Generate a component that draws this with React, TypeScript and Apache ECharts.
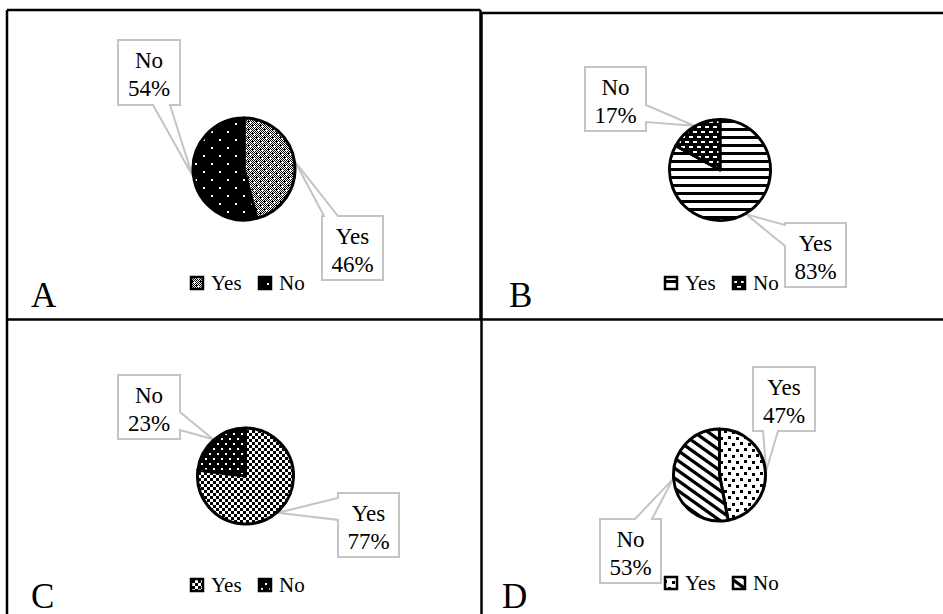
import React, { useEffect, useRef } from 'react';
import * as echarts from 'echarts';

// Survey answers per panel, in the order of the categories
const categories = ['Yes', 'No'];
const answersA = [46, 54];
const answersB = [83, 17];
const answersC = [77, 23];
const answersD = [47, 53];
const panelLetters = ['A', 'B', 'C', 'D'];

const FONT = 'serif';

type Side = 'top' | 'bottom' | 'left' | 'right';
interface Callout {
  left: number;
  top: number;
  width: number;
  height: number;
  side: Side;
  from: number;
  to: number;
}

// ---- pattern tiles --------------------------------------------------------
function makeTile(w: number, h: number, draw: (ctx: CanvasRenderingContext2D) => void) {
  const c = document.createElement('canvas');
  c.width = w;
  c.height = h;
  const ctx = c.getContext('2d')!;
  draw(ctx);
  return { image: c, repeat: 'repeat', imageWidth: w, imageHeight: h } as any;
}

function wrapRect(ctx: CanvasRenderingContext2D, x: number, y: number, w: number, h: number, W: number, H: number) {
  for (const dx of [-W, 0, W]) {
    for (const dy of [-H, 0, H]) ctx.fillRect(x + dx, y + dy, w, h);
  }
}

const patternMakers = {
  checkCross: () =>
    makeTile(8, 8, (ctx) => {
      ctx.fillStyle = '#fff';
      ctx.fillRect(0, 0, 8, 8);
      ctx.fillStyle = '#000';
      for (let y = 0; y < 8; y++) for (let x = 0; x < 8; x++) if ((x + y) % 2 === 0) ctx.fillRect(x, y, 1, 1);
      ctx.fillRect(0, 0, 1, 2);
      ctx.fillRect(4, 4, 1, 2);
      ctx.fillStyle = '#fff';
      ctx.fillRect(1, 2, 3, 1);
      ctx.fillRect(2, 1, 1, 3);
      ctx.fillRect(5, 6, 3, 1);
      ctx.fillRect(6, 5, 1, 3);
    }),
  sparseDots: () =>
    makeTile(16, 16, (ctx) => {
      ctx.fillStyle = '#000';
      ctx.fillRect(0, 0, 16, 16);
      ctx.fillStyle = '#fff';
      ctx.fillRect(3, 3, 2, 2);
      ctx.fillRect(11, 11, 2, 2);
    }),
  horizontalStripes: () =>
    makeTile(8, 8, (ctx) => {
      ctx.fillStyle = '#fff';
      ctx.fillRect(0, 0, 8, 8);
      ctx.fillStyle = '#000';
      ctx.fillRect(0, 0, 8, 3);
    }),
  dashes: () =>
    makeTile(8, 10, (ctx) => {
      ctx.fillStyle = '#000';
      ctx.fillRect(0, 0, 8, 10);
      ctx.fillStyle = '#fff';
      wrapRect(ctx, 1, 1, 4, 2, 8, 10);
      wrapRect(ctx, 5, 6, 4, 2, 8, 10);
    }),
  checkerboard: () =>
    makeTile(6, 6, (ctx) => {
      ctx.fillStyle = '#fff';
      ctx.fillRect(0, 0, 6, 6);
      ctx.fillStyle = '#000';
      ctx.fillRect(0, 0, 3, 3);
      ctx.fillRect(3, 3, 3, 3);
    }),
  denseDots: () =>
    makeTile(8, 10, (ctx) => {
      ctx.fillStyle = '#000';
      ctx.fillRect(0, 0, 8, 10);
      ctx.fillStyle = '#fff';
      wrapRect(ctx, 1, 1, 2, 2, 8, 10);
      wrapRect(ctx, 5, 6, 2, 2, 8, 10);
    }),
  confetti: () =>
    makeTile(16, 12, (ctx) => {
      ctx.fillStyle = '#fff';
      ctx.fillRect(0, 0, 16, 12);
      ctx.fillStyle = '#000';
      wrapRect(ctx, 0, 0, 3, 3, 16, 12);
      wrapRect(ctx, 8, 1, 3, 3, 16, 12);
      wrapRect(ctx, 4, 6, 3, 3, 16, 12);
      wrapRect(ctx, 12, 7, 3, 3, 16, 12);
    }),
  diagonal: () =>
    makeTile(14, 10, (ctx) => {
      ctx.fillStyle = '#fff';
      ctx.fillRect(0, 0, 14, 10);
      ctx.strokeStyle = '#000';
      ctx.lineWidth = 3.3;
      for (const k of [-1, 0, 1]) {
        ctx.beginPath();
        ctx.moveTo(k * 14 - 14, -10);
        ctx.lineTo(k * 14 + 28, 20);
        ctx.stroke();
      }
    }),
};

// Panel frame lines in page coordinates; every panel draws them, clipped to its own box
const frameLines = [
  [7, 10, 480.5, 10],
  [7, 10, 7, 614],
  [480.5, 10, 480.5, 320],
  [481.5, 13, 943, 13],
  [481.5, 13, 481.5, 614],
  [7, 319.5, 943, 319.5],
];

// ---- panel layout (page coordinates) ---------------------------------------
interface PanelCfg {
  letter: string;
  values: number[];
  fills: (keyof typeof patternMakers)[];
  box: [number, number, number, number];
  center: [number, number];
  radius: number;
  legendPos: [number, number];
  letterPos: [number, number];
  callouts: Callout[];
}

const LEGEND_STEP = 68;

const panels: PanelCfg[] = [
  {
    letter: panelLetters[0],
    values: answersA,
    fills: ['checkCross', 'sparseDots'],
    box: [0, 0, 484, 322],
    center: [244, 169],
    radius: 51,
    legendPos: [190, 283],
    letterPos: [31, 295],
    callouts: [
      { left: 322, top: 216, width: 61, height: 64, side: 'top', from: 324, to: 338 },
      { left: 118, top: 40, width: 62, height: 65, side: 'bottom', from: 153, to: 170 },
    ],
  },
  {
    letter: panelLetters[1],
    values: answersB,
    fills: ['horizontalStripes', 'dashes'],
    box: [484, 0, 459, 322],
    center: [720, 170],
    radius: 50.5,
    legendPos: [664, 283],
    letterPos: [509, 295],
    callouts: [
      { left: 785, top: 223, width: 61, height: 64, side: 'left', from: 225, to: 246 },
      { left: 585, top: 67, width: 61, height: 64, side: 'right', from: 105, to: 122 },
    ],
  },
  {
    letter: panelLetters[2],
    values: answersC,
    fills: ['checkerboard', 'denseDots'],
    box: [0, 322, 484, 292],
    center: [245.5, 476],
    radius: 48,
    legendPos: [190, 585],
    letterPos: [31, 596],
    callouts: [
      { left: 338, top: 493, width: 61, height: 64, side: 'left', from: 498, to: 520 },
      { left: 118, top: 375, width: 62, height: 64, side: 'right', from: 412, to: 430 },
    ],
  },
  {
    letter: panelLetters[3],
    values: answersD,
    fills: ['confetti', 'diagonal'],
    box: [484, 322, 459, 292],
    center: [719.5, 475],
    radius: 46,
    legendPos: [664, 583],
    letterPos: [502, 596],
    callouts: [
      { left: 753, top: 367, width: 62, height: 64, side: 'bottom', from: 763, to: 778 },
      { left: 600, top: 519, width: 61, height: 64, side: 'top', from: 635, to: 652 },
    ],
  },
];

// Point on the rim at the middle angle of a slice (pie starts at 12 o'clock, clockwise)
function sliceTip(values: number[], idx: number, cx: number, cy: number, r: number): number[] {
  const total = values.reduce((s, v) => s + v, 0);
  let acc = 0;
  for (let i = 0; i < idx; i++) acc += values[i];
  const mid = ((acc + values[idx] / 2) / total) * Math.PI * 2;
  return [cx + r * Math.sin(mid), cy - r * Math.cos(mid)];
}

function calloutPoints(c: Callout, tip: number[], ox: number, oy: number): number[][] {
  const L = c.left - ox;
  const T = c.top - oy;
  const R = L + c.width;
  const B = T + c.height;
  const shift = c.side === 'top' || c.side === 'bottom' ? ox : oy;
  const a = Math.min(c.from, c.to) - shift;
  const b = Math.max(c.from, c.to) - shift;
  const t = [tip[0] - ox, tip[1] - oy];
  switch (c.side) {
    case 'top':
      return [[L, T], [a, T], t, [b, T], [R, T], [R, B], [L, B]];
    case 'right':
      return [[L, T], [R, T], [R, a], t, [R, b], [R, B], [L, B]];
    case 'bottom':
      return [[L, T], [R, T], [R, B], [b, B], t, [a, B], [L, B]];
    default:
      return [[L, T], [R, T], [R, B], [L, B], [L, b], t, [L, a]];
  }
}

function serifText(text: string, x: number, y: number, size: number, align: string) {
  return {
    type: 'text',
    x,
    y,
    z: 10,
    style: { text, fontFamily: FONT, fontSize: size, fill: '#000', align, verticalAlign: 'middle' },
  };
}

function buildOption(cfg: PanelCfg): any {
  const [ox, oy] = cfg.box;
  const cx = cfg.center[0] - ox;
  const cy = cfg.center[1] - oy;
  const fills = cfg.fills.map((f) => patternMakers[f]());
  const graphics: any[] = [];

  frameLines.forEach(([x1, y1, x2, y2]) => {
    graphics.push({
      type: 'line',
      shape: { x1: x1 - ox, y1: y1 - oy, x2: x2 - ox, y2: y2 - oy },
      style: { stroke: '#000', lineWidth: 2.5 },
    });
  });

  // callout boxes with their pointer, and the category / share they state
  cfg.callouts.forEach((c, i) => {
    const tip = sliceTip(cfg.values, i, cfg.center[0], cfg.center[1], cfg.radius + 1);
    graphics.push({
      type: 'polygon',
      shape: { points: calloutPoints(c, tip, ox, oy) },
      style: { fill: '#fff', stroke: '#c4c4c4', lineWidth: 2 },
    });
    const mx = c.left - ox + c.width / 2;
    graphics.push(serifText(categories[i], mx, c.top - oy + 20, 23, 'center'));
    graphics.push(serifText(`${cfg.values[i]}%`, mx, c.top - oy + 48, 23, 'center'));
  });

  // legend: patterned swatch + category name
  categories.forEach((name, i) => {
    const x = cfg.legendPos[0] - ox + i * LEGEND_STEP;
    const y = cfg.legendPos[1] - oy;
    graphics.push({
      type: 'rect',
      shape: { x: x + 1, y: y - 6, width: 12, height: 12 },
      style: { fill: fills[i], stroke: '#000', lineWidth: 2.5 },
      z: 10,
    });
    graphics.push(serifText(name, x + 21, y, 21, 'left'));
  });

  graphics.push(serifText(cfg.letter, cfg.letterPos[0] - ox, cfg.letterPos[1] - oy, 35, 'left'));

  return {
    animation: false,
    graphic: { elements: graphics },
    series: [
      {
        type: 'pie',
        center: [cx, cy],
        radius: cfg.radius,
        startAngle: 90,
        clockwise: true,
        silent: true,
        emphasis: { disabled: true },
        itemStyle: { borderColor: '#000', borderWidth: 3 },
        data: categories.map((name, i) => ({
          name,
          value: cfg.values[i],
          itemStyle: { color: fills[i] },
        })),
        label: { show: false },
        labelLine: { show: false },
      },
    ],
  };
}

function PiePanel({ cfg }: { cfg: PanelCfg }) {
  const ref = useRef<HTMLDivElement>(null);
  const [left, top, width, height] = cfg.box;
  useEffect(() => {
    const chart = echarts.init(ref.current!, undefined, { renderer: 'svg', width, height });
    chart.setOption(buildOption(cfg));
    return () => chart.dispose();
  }, [cfg]);
  return <div ref={ref} style={{ position: 'absolute', left, top, width, height, overflow: 'hidden' }} />;
}

export default function App() {
  return (
    <div style={{ position: 'absolute', left: 0, top: 0, width: 943, height: 614, background: '#fff', overflow: 'hidden' }}>
      {panels.map((p) => (
        <PiePanel key={p.letter} cfg={p} />
      ))}
    </div>
  );
}
